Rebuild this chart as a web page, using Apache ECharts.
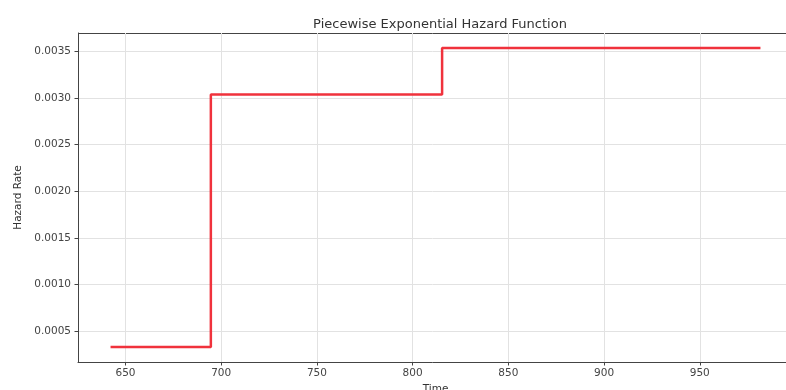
<!DOCTYPE html>
<html>
<head>
<meta charset="utf-8">
<script src="https://cdn.jsdelivr.net/npm/echarts@6/dist/echarts.min.js"></script>
<style>
  html, body { margin: 0; padding: 0; background: #fff; overflow: hidden; }
  #main { width: 786px; height: 390px; }
</style>
</head>
<body>
<div id="main"></div>
<script>
// step change points (post style)
var times = [642.2, 694.6, 815.4, 981.7];
var hazard = [0.000328, 0.00304, 0.00354, 0.00354];
var xTicks = [650, 700, 750, 800, 850, 900, 950];
var yTicks = [0.0005, 0.0010, 0.0015, 0.0020, 0.0025, 0.0030, 0.0035];

var chart = echarts.init(document.getElementById('main'));
var font = 'DejaVu Sans';

chart.setOption({
  animation: false,
  title: {
    text: 'Piecewise Exponential Hazard Function',
    left: 435, top: 13, textAlign: 'center',
    textStyle: { fontFamily: font, fontSize: 13, fontWeight: 'normal', color: '#333' }
  },
  grid: { left: 78, right: -7, top: 33, bottom: 28, outerBoundsMode: 'none' },
  xAxis: {
    type: 'value',
    min: 625.2, max: 998.7,
    name: 'Time', nameLocation: 'middle', nameGap: 20,
    nameTextStyle: { fontFamily: font, fontSize: 10.5, color: '#333' },
    axisLine: { show: true, lineStyle: { color: '#444', width: 1 } },
    axisTick: { show: true, length: 3.5, lineStyle: { color: '#444' }, customValues: xTicks },
    axisLabel: { fontFamily: font, fontSize: 10.5, color: '#444', margin: 6, customValues: xTicks },
    splitLine: { show: true, lineStyle: { color: '#e2e2e2', width: 1 } }
  },
  yAxis: {
    type: 'value',
    min: 0.000167, max: 0.0037,
    name: 'Hazard Rate', nameLocation: 'middle', nameGap: 54, nameRotate: 90,
    nameTextStyle: { fontFamily: font, fontSize: 10.5, color: '#333' },
    axisLine: { show: true, lineStyle: { color: '#444', width: 1 } },
    axisTick: { show: true, length: 3.5, lineStyle: { color: '#444' }, customValues: yTicks },
    axisLabel: {
      fontFamily: font, fontSize: 10.5, color: '#444', margin: 7, customValues: yTicks,
      formatter: function (v) { return v.toFixed(4); }
    },
    splitLine: { show: true, lineStyle: { color: '#e2e2e2', width: 1 } }
  },
  series: [{
    type: 'line',
    step: 'end',
    showSymbol: false,
    data: times.map(function (t, i) { return [t, hazard[i]]; }),
    lineStyle: { color: '#f0323c', width: 2.5 }
  }],
  graphic: [{
    // top spine of the axes frame
    type: 'line',
    shape: { x1: 78, y1: 33.5, x2: 793, y2: 33.5 },
    style: { stroke: '#444', lineWidth: 1 }
  }]
});
</script>
</body>
</html>
